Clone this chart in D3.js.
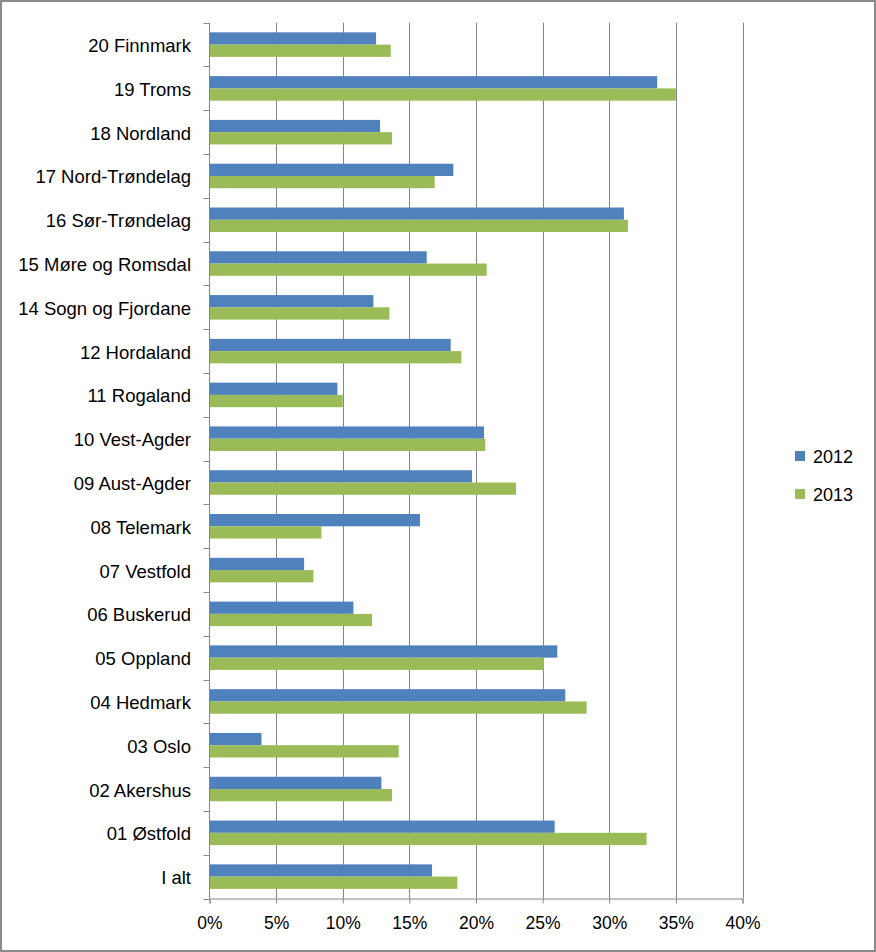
<!DOCTYPE html>
<html>
<head>
<meta charset="utf-8">
<script src="https://cdn.jsdelivr.net/npm/d3@7"></script>
<style>
  html, body { margin: 0; padding: 0; background: #fff; }
  svg { display: block; }
  text { font-family: "Liberation Sans", Arial, sans-serif; fill: #000; }
</style>
</head>
<body>
<svg id="chart" width="876" height="952"></svg>
<script>
// Data (top to bottom, as drawn)
const categories = ["20 Finnmark", "19 Troms", "18 Nordland", "17 Nord-Trøndelag", "16 Sør-Trøndelag",
  "15 Møre og Romsdal", "14 Sogn og Fjordane", "12 Hordaland", "11 Rogaland", "10 Vest-Agder",
  "09 Aust-Agder", "08 Telemark", "07 Vestfold", "06 Buskerud", "05 Oppland", "04 Hedmark",
  "03 Oslo", "02 Akershus", "01 Østfold", "I alt"];
const values2012 = [12.5, 33.6, 12.8, 18.3, 31.1, 16.3, 12.3, 18.1, 9.6, 20.6,
  19.7, 15.8, 7.1, 10.8, 26.1, 26.7, 3.9, 12.9, 25.9, 16.7];
const values2013 = [13.6, 35.0, 13.7, 16.9, 31.4, 20.8, 13.5, 18.9, 10.0, 20.7,
  23.0, 8.4, 7.8, 12.2, 25.1, 28.3, 14.2, 13.7, 32.8, 18.6];
const seriesNames = ["2012", "2013"];
const seriesColors = ["#4F81BD", "#9BBB59"];
const xTicks = [0, 5, 10, 15, 20, 25, 30, 35, 40];

const svg = d3.select("#chart");
const W = 876, H = 952;
const plot = { left: 209.5, right: 742.5, top: 22.7, bottom: 898.5 };
const gridColor = "#868686";

// Outer border
svg.append("rect").attr("x", 1).attr("y", 1).attr("width", W - 2).attr("height", H - 2)
  .attr("fill", "#fff").attr("stroke", "#8a8a8a").attr("stroke-width", 2);

const x = d3.scaleLinear().domain([0, 40]).range([plot.left, plot.right]);
const y = d3.scaleBand().domain(categories).range([plot.top, plot.bottom])
  .paddingInner(0.44).paddingOuter(0.22);
const ySub = d3.scaleBand().domain(seriesNames).range([0, y.bandwidth()]);

// Gridlines
svg.append("g").selectAll("line").data(xTicks.slice(1)).join("line")
  .attr("x1", d => Math.round(x(d)) + 0.5).attr("x2", d => Math.round(x(d)) + 0.5)
  .attr("y1", plot.top).attr("y2", plot.bottom)
  .attr("stroke", gridColor).attr("stroke-width", 1);

// Bars
const series = [values2012, values2013];
series.forEach((vals, si) => {
  svg.append("g").selectAll("rect").data(categories).join("rect")
    .attr("x", x(0))
    .attr("y", (c) => y(c) + ySub(seriesNames[si]))
    .attr("width", (c, i) => x(vals[i]) - x(0))
    .attr("height", ySub.bandwidth())
    .attr("fill", seriesColors[si]);
});

// X axis
const xAxis = d3.axisBottom(x).tickValues(xTicks).tickFormat(d => d + "%").tickSize(5).tickPadding(13);
const gx = svg.append("g").attr("transform", `translate(0,${plot.bottom})`).call(xAxis);
gx.select(".domain").attr("stroke", gridColor);
gx.selectAll(".tick line").attr("stroke", gridColor);
gx.selectAll(".tick text").style("font-family", '"Liberation Sans", Arial, sans-serif')
  .style("font-size", "17.5px").attr("fill", "#000");

// Y axis: line + ticks at category boundaries
svg.append("line").attr("x1", plot.left).attr("x2", plot.left)
  .attr("y1", plot.top).attr("y2", plot.bottom).attr("stroke", gridColor);
svg.append("g").selectAll("line").data(categories.concat([null])).join("line")
  .attr("x1", plot.left - 6).attr("x2", plot.left)
  .attr("y1", (d, i) => Math.round(plot.top + i * y.step()) + 0.5)
  .attr("y2", (d, i) => Math.round(plot.top + i * y.step()) + 0.5)
  .attr("stroke", gridColor);

// Category labels
svg.append("g").selectAll("text").data(categories).join("text")
  .attr("x", 191)
  .attr("y", c => y(c) + y.bandwidth() / 2 + 1)
  .attr("text-anchor", "end").attr("dominant-baseline", "central")
  .style("font-size", "18.5px")
  .text(c => c);

// Legend
const legend = svg.append("g");
seriesNames.forEach((s, i) => {
  const ly = 456 + i * 38;
  legend.append("rect").attr("x", 795).attr("y", ly - 5).attr("width", 10).attr("height", 10)
    .attr("fill", seriesColors[i]);
  legend.append("text").attr("x", 813).attr("y", ly + 1).attr("dominant-baseline", "central")
    .style("font-size", "18px").text(s);
});
</script>
</body>
</html>
